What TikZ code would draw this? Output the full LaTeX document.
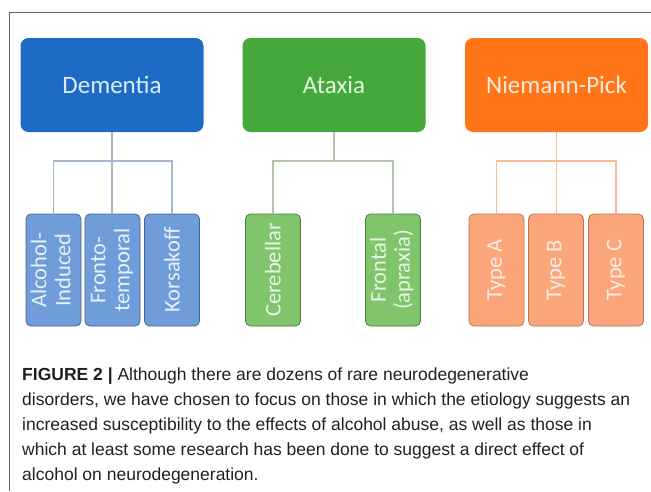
\documentclass[tikz,border=0pt]{standalone}
\usepackage{fontspec}
\setmainfont{Carlito}
\newfontfamily\capfont{Liberation Sans}
\definecolor{demblue}{RGB}{30,107,198}
\definecolor{atxgreen}{RGB}{69,168,58}
\definecolor{nporange}{RGB}{255,117,24}
\definecolor{demsub}{RGB}{110,157,217}
\definecolor{atxsub}{RGB}{128,196,108}
\definecolor{npsub}{RGB}{250,166,122}
\definecolor{demedge}{RGB}{70,100,140}
\definecolor{atxedge}{RGB}{75,125,65}
\definecolor{npedge}{RGB}{190,115,85}
\definecolor{demline}{RGB}{165,182,210}
\definecolor{atxline}{RGB}{178,196,170}
\definecolor{npline}{RGB}{250,185,150}
\definecolor{frame}{RGB}{95,95,95}
\definecolor{captext}{RGB}{35,31,32}
\begin{document}
\begin{tikzpicture}[x=1pt,y=-1pt,
    topbox/.style={rounded corners=8pt,minimum width=183pt,minimum height=94pt,
        inner sep=0pt,font=\fontsize{25}{30}\selectfont},
    subbox/.style={draw,line width=0.8pt,rounded corners=5pt,minimum width=55pt,
        minimum height=112pt,inner sep=0pt,font=\fontsize{22.5}{24}\selectfont},
    link/.style={line width=1.1pt}]
    \useasboundingbox (0,0) rectangle (651,491);
    \draw[frame,line width=0.9pt] (651,12.5) -- (9,12.5) -- (9,491);
    \node[topbox,fill=demblue,text={rgb,255:red,220;green,235;blue,252}] at (112,85) (d0) {Dementia};
    \node[topbox,fill=atxgreen,text={rgb,255:red,228;green,245;blue,222}] at (334,85) (a0) {Ataxia};
    \node[topbox,fill=nporange,text={rgb,255:red,255;green,236;blue,220}] at (556.5,85) (n0) {Niemann-Pick};
    \node[subbox,fill=demsub,draw=demedge,text={rgb,255:red,232;green,240;blue,250}] at (53.5,270) (d1) {\rotatebox{90}{\begin{tabular}{@{}c@{}}Alcohol-\\Induced\end{tabular}}};
    \node[subbox,fill=demsub,draw=demedge,text={rgb,255:red,232;green,240;blue,250}] at (112.5,270) (d2) {\rotatebox{90}{\begin{tabular}{@{}c@{}}Fronto-\\temporal\end{tabular}}};
    \node[subbox,fill=demsub,draw=demedge,text={rgb,255:red,232;green,240;blue,250}] at (172,270) (d3) {\rotatebox{90}{Korsakoff}};
    \node[subbox,fill=atxsub,draw=atxedge,text={rgb,255:red,232;green,246;blue,228}] at (273,270) (a1) {\rotatebox{90}{Cerebellar}};
    \node[subbox,fill=atxsub,draw=atxedge,text={rgb,255:red,232;green,246;blue,228}] at (393,270) (a2) {\rotatebox{90}{\begin{tabular}{@{}c@{}}Frontal\\(apraxia)\end{tabular}}};
    \node[subbox,fill=npsub,draw=npedge,text={rgb,255:red,255;green,236;blue,226}] at (496.5,270) (n1) {\rotatebox{90}{Type A}};
    \node[subbox,fill=npsub,draw=npedge,text={rgb,255:red,255;green,236;blue,226}] at (556,270) (n2) {\rotatebox{90}{Type B}};
    \node[subbox,fill=npsub,draw=npedge,text={rgb,255:red,255;green,236;blue,226}] at (616,270) (n3) {\rotatebox{90}{Type C}};
    \coordinate (dbar) at (112,161);
    \coordinate (abar) at (334,161);
    \coordinate (nbar) at (556,161);
    \draw[link,demline] (d0.south) -- (d0.south |- d2.north);
    \draw[link,demline] (d1.north) |- (dbar) -| (d3.north);
    \draw[link,atxline] (a0.south) -- (abar);
    \draw[link,atxline] (a1.north) |- (abar) -| (a2.north);
    \draw[link,npline] (n0.south) -- (n0.south |- n2.north);
    \draw[link,npline] (n1.north) |- (nbar) -| (n3.north);
    \node[anchor=north west,inner sep=0pt,align=left,text=captext,
        font=\capfont\fontsize{17.5}{25}\selectfont] at (22,368) (cap)
        {\textbf{FIGURE 2 |} Although there are dozens of rare neurodegenerative\\
        disorders, we have chosen to focus on those in which the etiology suggests an\\
        increased susceptibility to the effects of alcohol abuse, as well as those in\\
        which at least some research has been done to suggest a direct effect of\\
        alcohol on neurodegeneration.};
\end{tikzpicture}
\end{document}
